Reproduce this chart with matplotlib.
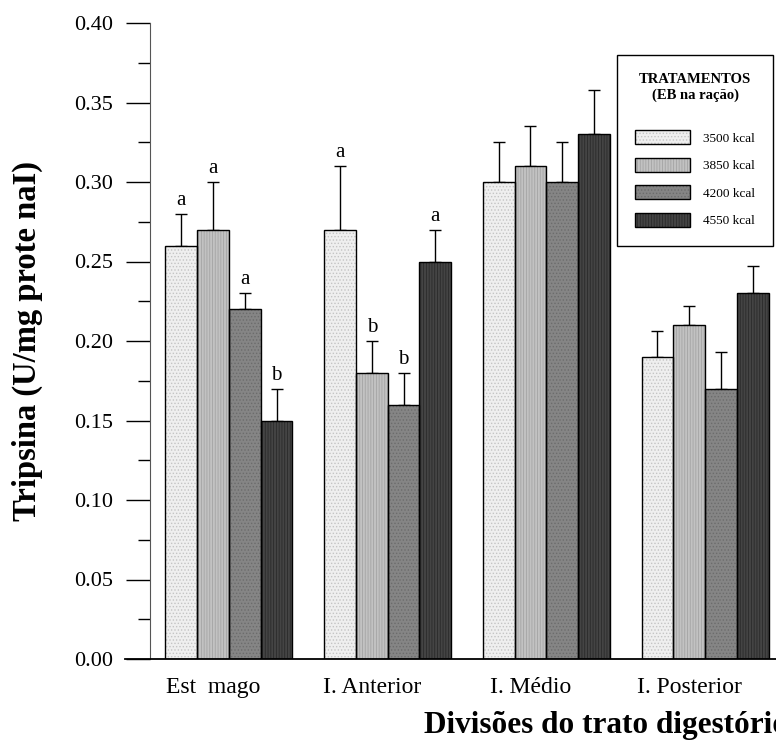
import numpy as np
import matplotlib.pyplot as plt

plt.rcParams['font.family'] = ['Liberation Serif', 'DejaVu Serif']
plt.rcParams['hatch.linewidth'] = 0.6

grupos = ['Est  mago', 'I. Anterior', 'I. Médio', 'I. Posterior']
tratamentos = ['3500 kcal', '3850 kcal', '4200 kcal', '4550 kcal']

t3500 = [0.26, 0.27, 0.30, 0.19]
t3850 = [0.27, 0.18, 0.31, 0.21]
t4200 = [0.22, 0.16, 0.30, 0.17]
t4550 = [0.15, 0.25, 0.33, 0.23]

e3500 = [0.020, 0.040, 0.025, 0.016]
e3850 = [0.030, 0.020, 0.025, 0.012]
e4200 = [0.010, 0.020, 0.025, 0.023]
e4550 = [0.020, 0.020, 0.028, 0.017]

l3500 = ['a', 'a', '', '']
l3850 = ['a', 'b', '', '']
l4200 = ['a', 'b', '', '']
l4550 = ['b', 'a', '', '']

medias = [t3500, t3850, t4200, t4550]
erros = [e3500, e3850, e4200, e4550]
letras = [l3500, l3850, l4200, l4550]

# cor de fundo, cor da textura, textura
cores = ['#efefef', '#c2c2c2', '#858585', '#444444']
texturas = ['#c4c4c4', '#a4a4a4', '#6c6c6c', '#2a2a2a']
hatches = ['.....', '||||||', '.....', '||||||']

fig = plt.figure(figsize=(7.76, 7.47), dpi=100)
ax = fig.add_axes([125/776, 88/747, 651/776, 636/747])

x = np.arange(len(grupos))
w = 0.2
handles = []
for i in range(4):
    pos = x + (i - 1.5) * w
    b1 = ax.bar(pos, medias[i], w, color=cores[i], edgecolor=texturas[i],
                hatch=hatches[i], linewidth=0, zorder=2)
    b2 = ax.bar(pos, medias[i], w, fill=False, edgecolor='black',
                linewidth=1.0, zorder=3,
                yerr=[np.zeros(4), erros[i]],
                error_kw=dict(ecolor='black', elinewidth=1.0, capsize=4.5,
                              capthick=1.0, zorder=1))
    handles.append((b1.patches[0], b2.patches[0]))
    for xp, m, e, l in zip(pos, medias[i], erros[i], letras[i]):
        if l:
            ax.annotate(l, (xp, m + e), xytext=(0, 3), textcoords='offset points',
                        ha='center', va='bottom', fontsize=15)

ax.set_xlim(-0.655, 3.447)
ax.set_ylim(0, 0.4)
ax.spines['top'].set_visible(False)
ax.spines['right'].set_visible(False)
ax.spines['left'].set_position(('data', -0.5))
ax.spines['left'].set_bounds(0, 0.4)
ax.spines['left'].set_color('#555555')
ax.spines['bottom'].set_linewidth(1.3)

ax.set_yticks(np.arange(0, 0.401, 0.05))
ax.set_yticks(np.arange(0.025, 0.4, 0.05), minor=True)
ax.set_yticklabels(['%.2f' % v for v in np.arange(0, 0.401, 0.05)])
ax.tick_params(axis='y', which='major', direction='out', length=17, width=1,
               pad=9, labelsize=16)
ax.tick_params(axis='y', which='minor', direction='out', length=8.5, width=1)
ax.set_xticks(x - 0.1)
ax.set_xticklabels(grupos)
ax.tick_params(axis='x', length=0, pad=13, labelsize=17)

fig.text(27/776, 1 - 341/747, 'Tripsina (U/mg prote naI)', rotation=90,
         ha='center', va='center', fontsize=23.5, fontweight='bold')
fig.text(424/776, 1 - 726/747, 'Divisões do trato digestório',
         ha='left', va='center', fontsize=22.5, fontweight='bold')

leg = fig.legend(handles, tratamentos, loc='upper left',
                 bbox_to_anchor=(617/776, 1 - 55/747),
                 bbox_transform=fig.transFigure, borderaxespad=0,
                 title='TRATAMENTOS\n(EB na ração)\n',
                 title_fontproperties={'weight': 'bold', 'size': 10.5},
                 fontsize=9.5, handlelength=4.1, handleheight=1.25,
                 labelspacing=1.0, handletextpad=1.0, borderpad=1.4,
                 fancybox=False, edgecolor='black', framealpha=1)
leg.get_title().set_multialignment('center')
leg.get_frame().set_linewidth(1.0)

fig.savefig('out.png', dpi=100)
